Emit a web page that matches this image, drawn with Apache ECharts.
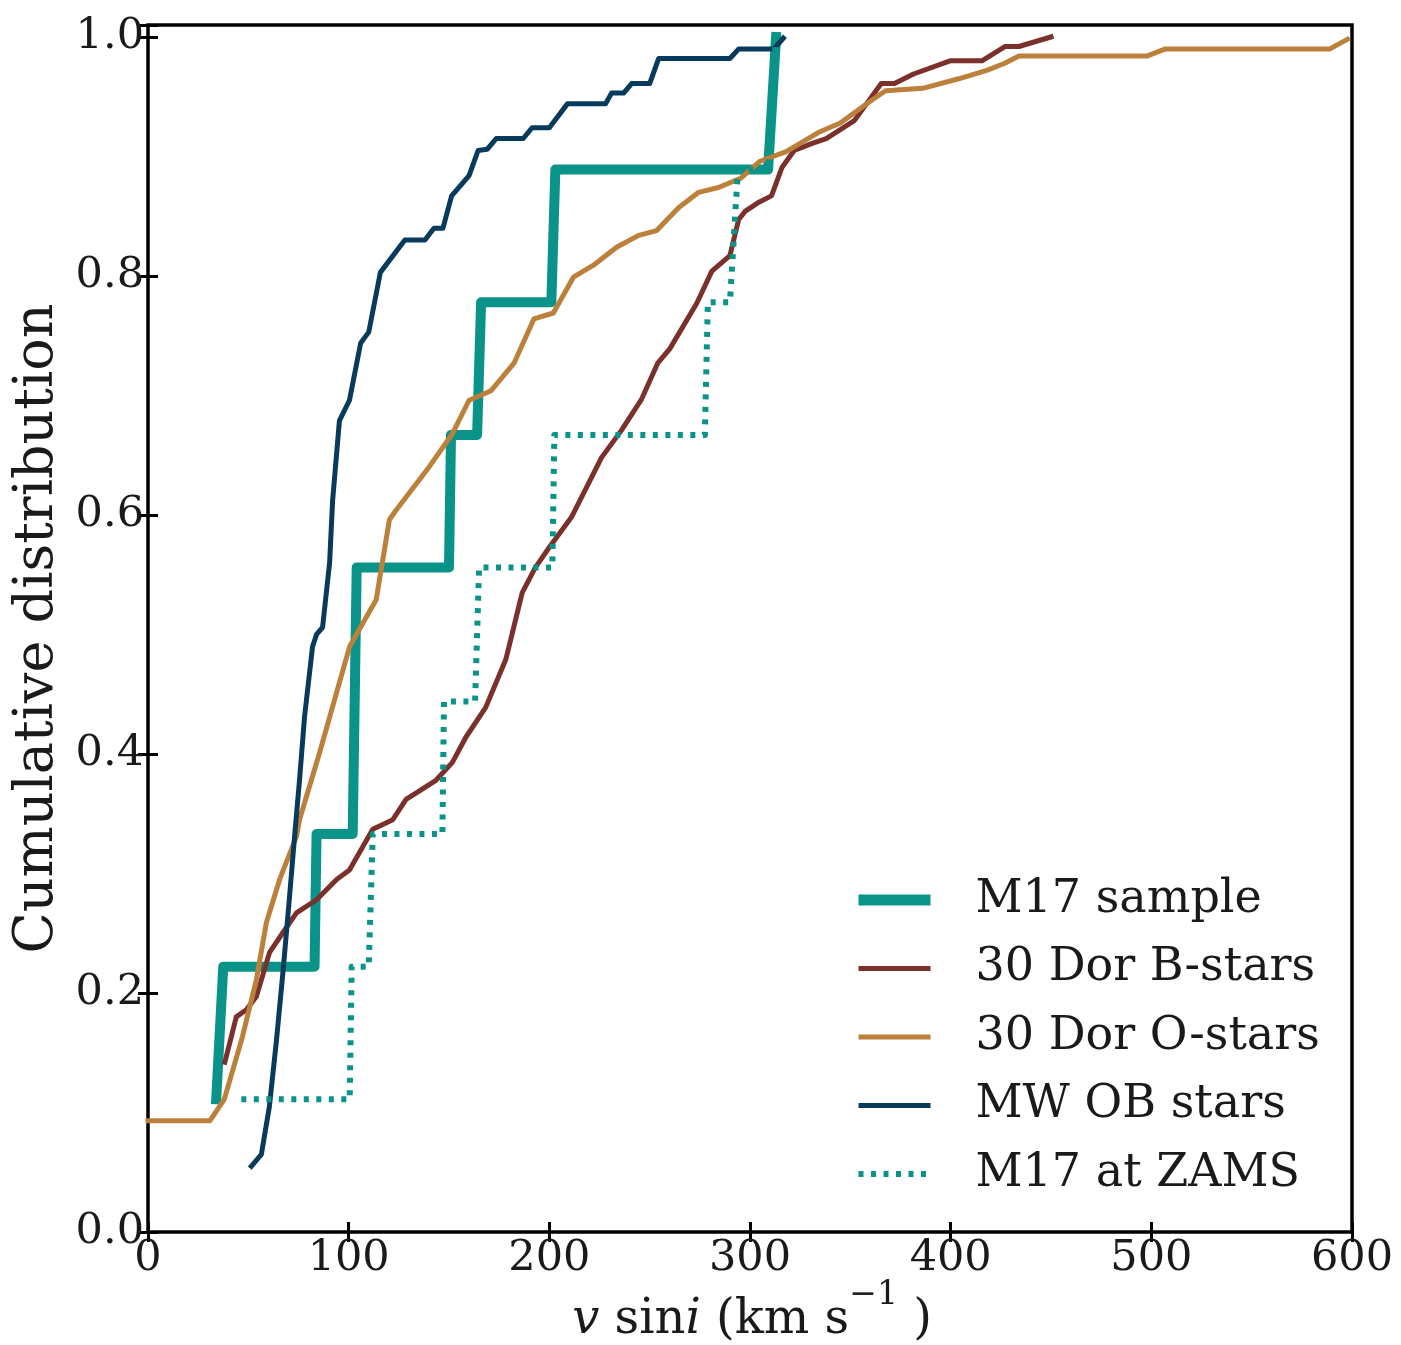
<!DOCTYPE html>
<html>
<head>
<meta charset="utf-8">
<script src="https://cdn.jsdelivr.net/npm/echarts@6/dist/echarts.min.js"></script>
<style>
  html, body { margin: 0; padding: 0; background: #ffffff; }
  #chart { width: 1401px; height: 1345px; }
</style>
</head>
<body>
<div id="chart"></div>
<script>
// Axis ticks
const xTickValues = [0, 100, 200, 300, 400, 500, 600];
const yTickValues = [0.0, 0.2, 0.4, 0.6, 0.8, 1.0];

// M17 sample (observed v sin i), cumulative steps
const m17X = [34, 37.5, 83, 84, 102, 104, 150, 151, 164, 166, 201, 203, 309, 313];
const m17Y = [0.111, 0.222, 0.222, 0.333, 0.333, 0.556, 0.556, 0.667, 0.667, 0.778, 0.778, 0.889, 0.889, 1.0];

// 30 Dor B-stars
const dorBX = [38.3, 44, 49, 54, 60.6, 67, 74, 84, 94, 100.4, 112, 122, 128.6, 143.5, 151.7, 158.4, 168.3, 178.3,
  186.5, 193, 200, 211, 226, 236, 246, 254, 260, 273.4, 281, 290, 294.3, 297.5, 303.7, 310.7, 316, 322, 331, 338,
  352, 365.4, 372, 381.5, 399.7, 415.6, 427, 434, 450];
const dorBY = [0.142, 0.180, 0.186, 0.197, 0.234, 0.250, 0.267, 0.278, 0.295, 0.303, 0.337, 0.345, 0.362, 0.378,
  0.393, 0.414, 0.439, 0.479, 0.535, 0.556, 0.573, 0.598, 0.648, 0.671, 0.697, 0.727, 0.739, 0.777, 0.804, 0.817,
  0.847, 0.854, 0.861, 0.867, 0.891, 0.905, 0.911, 0.915, 0.930, 0.961, 0.961, 0.969, 0.980, 0.980, 0.992, 0.992, 1.0];

// 30 Dor O-stars
const dorOX = [0, 30.8, 38, 42, 47, 54, 59, 65.6, 74, 75.5, 85.5, 100.5, 113.7, 120.3, 123.6, 140, 151.7, 160, 171,
  182.4, 192.3, 202, 212, 222, 233.5, 244.5, 253.5, 264.4, 274.4, 284.3, 295.6, 305, 318, 334, 345, 360.6, 367.6,
  386, 404, 418, 427, 434, 497.8, 507, 589, 597.7];
const dorOY = [0.093, 0.093, 0.111, 0.134, 0.163, 0.211, 0.259, 0.295, 0.331, 0.345, 0.401, 0.490, 0.529, 0.596,
  0.604, 0.640, 0.668, 0.696, 0.704, 0.727, 0.764, 0.769, 0.799, 0.809, 0.824, 0.834, 0.838, 0.857, 0.870, 0.874,
  0.882, 0.896, 0.904, 0.920, 0.928, 0.947, 0.955, 0.957, 0.965, 0.972, 0.978, 0.984, 0.984, 0.990, 0.990, 0.998];

// Milky Way OB stars
const mwX = [51.5, 56.5, 60.5, 64, 67.5, 70.5, 73, 75.5, 78, 82, 84, 87, 90.5, 92, 95.4, 100.4, 106, 110, 115.8,
  128, 138, 142.5, 147, 151.3, 160, 164.5, 169, 173.5, 187, 191.4, 200, 209, 228, 231, 237, 241, 250, 254.5, 290,
  294.4, 312, 316.6];
const mwY = [0.055, 0.065, 0.105, 0.160, 0.222, 0.280, 0.330, 0.378, 0.431, 0.490, 0.500, 0.506, 0.560, 0.612,
  0.679, 0.696, 0.744, 0.753, 0.803, 0.830, 0.830, 0.840, 0.840, 0.867, 0.884, 0.905, 0.906, 0.915, 0.915, 0.924,
  0.924, 0.944, 0.944, 0.953, 0.953, 0.961, 0.961, 0.982, 0.982, 0.990, 0.990, 0.999];

// M17 stars projected back to the ZAMS
const zamsX = [46.5, 100.5, 101.5, 110, 112, 146.7, 147.5, 163, 165, 201.5, 202.5, 277.5, 279, 290, 294, 309, 313];
const zamsY = [0.111, 0.111, 0.222, 0.222, 0.333, 0.333, 0.444, 0.444, 0.556, 0.556, 0.667, 0.667, 0.778, 0.778,
  0.889, 0.889, 1.0];

const seriesNames = ['M17 sample', '30 Dor B-stars', '30 Dor O-stars', 'MW OB stars', 'M17 at ZAMS'];
const seriesColors = ['#0a9388', '#7a302b', '#bb803a', '#083a5c', '#0a9388'];
const seriesWidths = [10, 5, 5, 5, 6];
const zamsDash = [5, 7.5];

const pairs = (xs, ys) => xs.map((x, i) => [x, ys[i]]);

const serif = 'DejaVu Serif';
const chart = echarts.init(document.getElementById('chart'), null, { renderer: 'canvas' });

const tickFmt = (v) => {
  const k = v / 0.2;
  return Math.abs(k - Math.round(k)) < 1e-6 ? v.toFixed(1) : '';
};

const baseX = {
  type: 'value', min: 0, max: 600, interval: 100,
  axisLine: { show: false },
  splitLine: { show: false },
  axisTick: { show: true, inside: true, length: 10, lineStyle: { color: '#000', width: 3 } }
};
const baseY = {
  type: 'value', min: 0, max: 1.01, interval: 0.2,
  axisLine: { show: false },
  splitLine: { show: false },
  axisTick: { show: true, inside: true, length: 10, lineStyle: { color: '#000', width: 3 } }
};

const line = (idx, data, dash) => ({
  name: seriesNames[idx],
  type: 'line',
  data: data,
  symbol: 'none',
  showSymbol: false,
  smooth: false,
  animation: false,
  lineStyle: {
    color: seriesColors[idx],
    width: seriesWidths[idx],
    type: dash || 'solid',
    cap: dash ? 'butt' : 'square',
    join: 'round'
  },
  itemStyle: { color: seriesColors[idx] },
  emphasis: { disabled: true }
});

const legendItems = seriesNames.map((name, i) => ({
  name: name,
  lineStyle: {
    width: i === 0 ? 11 : seriesWidths[i],
    type: i === 4 ? zamsDash : 'solid',
    cap: 'butt'
  }
}));

chart.setOption({
  backgroundColor: '#ffffff',
  animation: false,
  grid: {
    left: 148, right: 49, top: 25, bottom: 113,
    show: true, borderColor: '#000', borderWidth: 3.5, backgroundColor: 'transparent'
  },
  xAxis: [
    Object.assign({}, baseX, {
      position: 'bottom',
      axisLabel: {
        show: true, margin: 5, color: '#1a1a1a', fontFamily: serif, fontSize: 43,
        formatter: (v) => (xTickValues.indexOf(v) >= 0 ? String(v) : '')
      }
    }),
    Object.assign({}, baseX, { position: 'top', axisLabel: { show: false } })
  ],
  yAxis: [
    Object.assign({}, baseY, {
      position: 'left',
      name: 'Cumulative distribution',
      nameLocation: 'middle',
      nameRotate: 90,
      nameGap: 70,
      nameTextStyle: { fontFamily: serif, fontSize: 54, color: '#1a1a1a' },
      axisLabel: {
        show: true, margin: 4, color: '#1a1a1a', fontFamily: serif, fontSize: 43,
        formatter: tickFmt
      }
    }),
    Object.assign({}, baseY, { position: 'right', axisLabel: { show: false } })
  ],
  legend: {
    orient: 'vertical',
    left: 848,
    top: 871,
    itemWidth: 72,
    itemHeight: 14,
    itemGap: 20.5,
    selectedMode: false,
    itemStyle: { opacity: 0, borderWidth: 0 },
    data: legendItems,
    textStyle: {
      fontFamily: serif, fontSize: 46, color: '#1a1a1a', lineHeight: 48,
      padding: [0, 0, 0, 40]
    }
  },
  graphic: [
    {
      type: 'text',
      x: 752,
      y: 1345,
      style: {
        text: '{i|v}{r|\u00a0sin}{i|i}{r|\u00a0(km\u00a0s}{s|\u22121}{r|\u00a0)}',
        align: 'center',
        verticalAlign: 'bottom',
        fill: '#1a1a1a',
        rich: {
          i: { fontFamily: serif, fontStyle: 'italic', fontSize: 48, lineHeight: 66, fill: '#1a1a1a', verticalAlign: 'bottom' },
          r: { fontFamily: serif, fontSize: 48, lineHeight: 66, fill: '#1a1a1a', verticalAlign: 'bottom' },
          s: { fontFamily: serif, fontSize: 33, lineHeight: 34, fill: '#1a1a1a', verticalAlign: 'top' }
        }
      }
    }
  ],
  series: [
    line(0, pairs(m17X, m17Y)),
    line(1, pairs(dorBX, dorBY)),
    line(2, pairs(dorOX, dorOY)),
    line(3, pairs(mwX, mwY)),
    line(4, pairs(zamsX, zamsY), zamsDash)
  ]
});
</script>
</body>
</html>
